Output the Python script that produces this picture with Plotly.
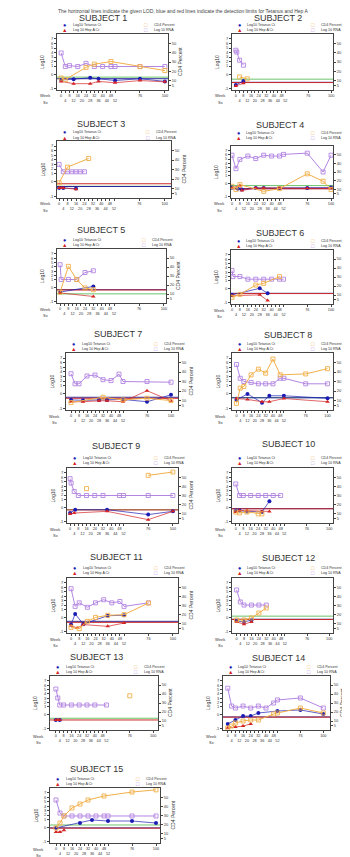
import plotly.graph_objects as go

W, H = 350, 857
FONT = "Liberation Sans, Arial, sans-serif"

# ---------------- data ----------------
subject_names = [f"SUBJECT {i}" for i in range(1, 16)]
legend_labels = ["Log10 Tetanus Ct", "Log 10 Hep A Ct", "CD4 Percent", "Log 10 RNA"]
header_text = "The horizontal lines indicate the given LOD, blue and red lines indicate the detection limits for Tetanus and Hep A"
week_ticks = [0, 4, 8, 12, 16, 20, 24, 28, 32, 36, 40, 44, 48, 52, 76, 100]
week_tick_text = ["0", "<br>4", "8", "<br>12", "16", "<br>20", "24", "<br>28", "32",
                  "<br>36", "40", "<br>44", "48", "<br>52", "76", "100"]
log_ticks = [-3.9, -0.8, 1, 2, 3, 4, 5, 6, 7]
log_tick_text = ["-1", "0", "1", "2", "3", "4", "5", "6", "7"]
cd4_ticks = [5, 10, 20, 30, 40, 50]

# Subject 1
s1_tet_wk = [0, 12, 28, 36, 52, 76, 100]
s1_tet = [-2.1, -1.9, -1.6, -1.8, -2.2, -1.8, -2.4]
s1_hep_wk = [0, 12, 28, 36, 52, 76, 100]
s1_hep = [-2.4, -2.9, -2.9, -2.4, -2.7, -2.2, -2.5]
s1_cd4_wk = [0, 4, 24, 32, 48, 76, 100]
s1_cd4 = [12.8, 11.1, 24.3, 27.7, 30.5, 25.0, 20.8]
s1_rna_wk = [0, 4, 8, 16, 24, 32, 40, 48, 52, 76, 100]
s1_rna = [3.9, 0.9, 1.1, 0.9, 1.6, 0.9, 0.9, 0.9, 0.9, 0.9, 0.9]
# Subject 2
s2_tet_wk = [0, 8]
s2_tet = [-3.2, -2.3]
s2_hep_wk = [0, 8]
s2_hep = [-3.4, -2.8]
s2_cd4_wk = [4, 12]
s2_cd4 = [14, 12]
s2_rna_wk = [0, 1, 4, 8]
s2_rna = [4.5, 4.1, 2.3, 1.2]
# Subject 3
s3_tet_wk = [0, 4, 16]
s3_tet = [-2.1, -2.1, -2.25]
s3_hep_wk = [0, 2, 4, 16]
s3_hep = [-2.1, -2.1, -2.1, -2.4]
s3_cd4_wk = [0, 8, 28]
s3_cd4 = [16, 32.5, 41.6]
s3_rna_wk = [0, 4, 8, 12, 16, 20, 24]
s3_rna = [3.0, 1.4, 1.4, 1.4, 1.4, 1.4, 1.4]
# Subject 4
s4_tet_wk = [0, 6, 10, 24, 32, 48, 76, 100]
s4_tet = [-1.8, -2.1, -2.3, -1.9, -1.9, -1.9, -1.9, -1.8]
s4_hep_wk = [0, 8, 10, 24, 32, 48, 76, 100]
s4_hep = [-1.9, -1.3, -2.5, -1.9, -1.9, -2.0, -2.0, -2.0]
s4_cd4_wk = [0, 4, 8, 32, 48, 76, 92, 100]
s4_cd4 = [13.5, 9.7, 15.5, 7.7, 10.8, 27.9, 19.4, 9.7]
s4_rna_wk = [0, 4, 8, 16, 24, 32, 40, 48, 52, 76, 92, 100]
s4_rna = [5.9, 2.7, 4.9, 5.7, 5.1, 5.9, 5.7, 5.7, 6.1, 6.4, 1.9, 5.9]
# Subject 5
s5_tet_wk = [0, 32]
s5_tet = [-1.8, -0.5]
s5_hep_wk = [0, 32]
s5_hep = [-2.0, -2.8]
s5_cd4_wk = [0, 8, 16, 24, 32]
s5_cd4 = [12, 40.7, 26, 16.7, 14.8]
s5_rna_wk = [0, 1, 8, 16, 24, 32]
s5_rna = [4.5, 1.1, 1.1, 1.1, 2.7, 3.1]
# Subject 6
s6_tet_wk = [0, 28, 36]
s6_tet = [-2.2, -0.7, -1.85]
s6_hep_wk = [0, 28, 36]
s6_hep = [-2.4, -2.2, -3.5]
s6_cd4_wk = [0, 8, 24, 32, 48]
s6_cd4 = [7.4, 10.7, 21, 23, 30.4]
s6_rna_wk = [0, 1, 8, 16, 24, 32, 40, 48, 52]
s6_rna = [3.4, 2.0, 2.0, 1.4, 1.4, 1.4, 1.4, 1.4, 1.4]
# Subject 7
s7_tet_wk = [0, 12, 28, 36, 52, 76, 100]
s7_tet = [-2.1, -2.2, -2.1, -2.1, -2.0, -2.5, -1.0]
s7_hep_wk = [0, 12, 28, 36, 52, 76, 100]
s7_hep = [-2.5, -2.5, -2.3, -2.3, -2.5, -0.1, -2.3]
s7_cd4_wk = [0, 32, 52, 76, 100]
s7_cd4 = [7.8, 13.4, 10.6, 12.4, 9.9]
s7_rna_wk = [0, 4, 8, 16, 24, 32, 40, 48, 52, 76, 100]
s7_rna = [3.6, 1.4, 1.4, 3.1, 3.3, 2.3, 2.1, 3.5, 1.9, 1.9, 1.75]
# Subject 8
s8_tet_wk = [0, 12, 28, 36, 52, 100]
s8_tet = [-2.1, -0.8, -2.7, -1.2, -1.2, -1.75]
s8_hep_wk = [0, 12, 28, 36, 52, 100]
s8_hep = [-1.8, -2.0, -2.5, -2.5, -1.8, -2.5]
s8_cd4_wk = [0, 4, 8, 16, 24, 32, 40, 48, 76, 100]
s8_cd4 = [7, 23, 24.7, 37, 43, 38.8, 53.6, 37, 38, 43.5]
s8_rna_wk = [0, 4, 8, 16, 24, 32, 40, 48, 52, 76, 100]
s8_rna = [5.6, 2.6, 1.9, 1.7, 1.4, 1.4, 1.4, 2.6, 2.6, 1.4, 1.4]
# Subject 9
s9_tet_wk = [0, 5, 36, 76, 100]
s9_tet = [-2.05, -1.3, -1.3, -2.4, -1.67]
s9_hep_wk = [0, 4, 36, 76, 100]
s9_hep = [-2.27, -2.05, -1.67, -3.55, -1.67]
s9_cd4_wk = [16, 46, 76, 100]
s9_cd4 = [37.5, None, 52, 55.6]
s9_rna_wk = [0, 1, 4, 8, 16, 24, 32, 48, 52, 76, 100]
s9_rna = [5.7, 4.7, 2.8, 1.9, 1.9, 1.9, 1.9, 1.9, 1.9, 1.9, 1.9]
# Subject 10
s10_tet_wk = [0, 4, 12, 28, 36]
s10_tet = [-1.5, -1.5, -1.7, -1.8, 0.6]
s10_hep_wk = [0, 4, 12, 28, 36]
s10_hep = [-1.8, -1.5, -1.5, -1.7, -1.7]
s10_cd4_wk = [0, 4, 12, 24, 28]
s10_cd4 = [12, 11, 12, 10, 10]
s10_rna_wk = [0, 4, 8, 16, 24, 32, 40, 48]
s10_rna = [4.5, 1.9, 1.9, 1.9, 1.9, 1.9, 1.9, 1.9]
# Subject 11
s11_tet_wk = [0, 4, 12, 36, 52]
s11_tet = [-2.4, 0.0, -2.3, -0.4, -0.3]
s11_hep_wk = [0, 6, 12, 36, 52]
s11_hep = [-2.6, -3.2, -2.4, -2.8, -2.05]
s11_cd4_wk = [0, 8, 16, 24, 36, 52, 76]
s11_cd4 = [6.2, 4.7, 12.7, 17, 19.3, 20, 32.7]
s11_rna_wk = [0, 4, 8, 16, 24, 32, 40, 48, 52, 76]
s11_rna = [5.7, 1.7, 2.5, 1.5, 2.5, 3.2, 2.5, 2.8, 1.7, 2.5]
# Subject 12
s12_tet_wk = [0, 8, 16]
s12_tet = [-1.6, -1.8, -1.4]
s12_hep_wk = [0, 8, 16]
s12_hep = [-1.8, -2.3, -1.8]
s12_cd4_wk = [0, 8, 16, 24, 32]
s12_cd4 = [14.2, 14.2, 16.4, 21.8, 27.3]
s12_rna_wk = [0, 4, 8, 16, 24, 32]
s12_rna = [5.4, 2.7, 2.0, 2.0, 2.0, 2.0]
# Subject 13
s13_tet_wk = [0, 4]
s13_tet = [-2.0, -2.0]
s13_hep_wk = [0, 2, 4]
s13_hep = [-2.0, -2.0, -2.0]
s13_cd4_wk = [76]
s13_cd4 = [38]
s13_rna_wk = [0, 2, 4, 8, 16, 24, 32, 40, 52]
s13_rna = [5.1, 3.05, 1.44, 1.44, 1.44, 1.44, 1.44, 1.44, 1.44]
# Subject 14
s14_tet_wk = [0, 8, 16, 24, 32, 52, 76, 100]
s14_tet = [-2.9, -2.0, -1.1, -1.1, -0.4, 0.06, 0.3, -0.63]
s14_hep_wk = [0, 8, 16, 24]
s14_hep = [-3.8, -3.6, -3.4, -2.9]
s14_cd4_wk = [0, 4, 8, 16, 24, 32, 48, 52, 76, 100]
s14_cd4 = [2.2, 4.4, 7.8, 10, 11.1, 11.1, 17.8, 18.9, 24.4, 18.9]
s14_rna_wk = [0, 4, 8, 16, 24, 32, 40, 48, 52, 76, 100]
s14_rna = [5.3, 1.2, 0.75, 1.2, 0.75, 1.2, 0.75, 1.9, 2.6, 3.05, 0.75]
# Subject 15
s15_tet_wk = [0, 24, 36, 52, 76, 100]
s15_tet = [-0.9, 0.2, 0.9, 0.66, 0.66, 0.2]
s15_hep_wk = [0, 4, 8]
s15_hep = [-1.8, -1.8, -1.4]
s15_cd4_wk = [0, 4, 8, 16, 24, 32, 48, 76, 100]
s15_cd4 = [16.4, 21.8, 29.5, 38.2, 42.5, 46.9, 51.3, 55.6, 58]
s15_rna_wk = [0, 4, 8, 16, 24, 32, 40, 48, 52, 76, 100]
s15_rna = [5.4, 2.46, 1.79, 1.79, 1.79, 1.79, 1.79, 1.79, 1.79, 1.79, 1.79]

# limit-of-detection reference lines (left-axis units), one per subject
lod_tet = [-1.8, -2.6, -1.8, -2.06, -1.24, -1.85, -1.53, -1.65, None, -1.06, -1.67, -1.2, None, -1.3, -0.9]
lod_hep = [None, -2.65, -1.2, -2.1, -1.3, -1.9, -1.75, None, -1.35, -1.1, -1.9, -1.25, -2.0, -1.35, -0.95]
lod_cd4 = [-1.45, -1.9, -1.75, -1.34, -2.2, None, None, -1.6, -1.3, None, None, -0.5, -1.6, None, -0.24]

subjects = [
    (s1_tet_wk, s1_tet, s1_hep_wk, s1_hep, s1_cd4_wk, s1_cd4, s1_rna_wk, s1_rna),
    (s2_tet_wk, s2_tet, s2_hep_wk, s2_hep, s2_cd4_wk, s2_cd4, s2_rna_wk, s2_rna),
    (s3_tet_wk, s3_tet, s3_hep_wk, s3_hep, s3_cd4_wk, s3_cd4, s3_rna_wk, s3_rna),
    (s4_tet_wk, s4_tet, s4_hep_wk, s4_hep, s4_cd4_wk, s4_cd4, s4_rna_wk, s4_rna),
    (s5_tet_wk, s5_tet, s5_hep_wk, s5_hep, s5_cd4_wk, s5_cd4, s5_rna_wk, s5_rna),
    (s6_tet_wk, s6_tet, s6_hep_wk, s6_hep, s6_cd4_wk, s6_cd4, s6_rna_wk, s6_rna),
    (s7_tet_wk, s7_tet, s7_hep_wk, s7_hep, s7_cd4_wk, s7_cd4, s7_rna_wk, s7_rna),
    (s8_tet_wk, s8_tet, s8_hep_wk, s8_hep, s8_cd4_wk, s8_cd4, s8_rna_wk, s8_rna),
    (s9_tet_wk, s9_tet, s9_hep_wk, s9_hep, s9_cd4_wk, s9_cd4, s9_rna_wk, s9_rna),
    (s10_tet_wk, s10_tet, s10_hep_wk, s10_hep, s10_cd4_wk, s10_cd4, s10_rna_wk, s10_rna),
    (s11_tet_wk, s11_tet, s11_hep_wk, s11_hep, s11_cd4_wk, s11_cd4, s11_rna_wk, s11_rna),
    (s12_tet_wk, s12_tet, s12_hep_wk, s12_hep, s12_cd4_wk, s12_cd4, s12_rna_wk, s12_rna),
    (s13_tet_wk, s13_tet, s13_hep_wk, s13_hep, s13_cd4_wk, s13_cd4, s13_rna_wk, s13_rna),
    (s14_tet_wk, s14_tet, s14_hep_wk, s14_hep, s14_cd4_wk, s14_cd4, s14_rna_wk, s14_rna),
    (s15_tet_wk, s15_tet, s15_hep_wk, s15_hep, s15_cd4_wk, s15_cd4, s15_rna_wk, s15_rna),
]

# ---------------- layout (pixels) ----------------
boxes = [
    (49, 160, 26, 82), (224, 325, 26, 82),
    (49, 163, 133, 190), (223, 325, 138, 190),
    (49, 158, 241, 295), (223, 325, 242, 296),
    (58, 170, 345, 402), (224, 325, 345, 402),
    (59, 170, 460, 515), (224, 325, 460, 515),
    (59, 170, 570, 625), (224, 325, 570, 625),
    (42, 150, 668, 722), (215, 322, 668, 722),
    (42, 152, 780, 835),
]
legend_offsets = [(9, 4), (9, 4), (8.5, 3.5), (13, 8), (9, 4), (9, 4),
                  (9, 4), (9, 4), (10, 5), (10, 5), (10, 5), (10, 5),
                  (9.5, 4.5), (9.5, 4.5), (9.5, 4.5)]
titles_pos = [(95, 10), (270, 10), (93, 116), (272, 117), (93, 222), (272, 225),
              (110, 326), (280, 327), (108, 438), (280, 436), (108, 549), (280, 550),
              (88, 649), (270, 650), (88, 761)]
xranges = [[-4, 103], [-4, 102], [-2, 106], [-1, 102], [-3, 102], [-1, 102],
           [-5, 107], [-5, 106], [-3, 105], [-4, 104], [-4, 105], [-5, 104],
           [-6, 105], [-5, 107], [-6, 104]]
LOG_RANGE = [-4.3, 8.1]
CD4_RANGE = [0, 60]

C_TET = "#1c1cb4"
C_HEP = "#d42424"
C_CD4 = "#f2b04a"
C_RNA = "#b386e2"
C_LOD_TET = "#2a2a9a"
C_LOD_HEP = "#cc2a2a"
C_LOD_CD4 = "#6cc46c"
AXC = "#444444"


def px(x):
    return x / W


def py(y):
    return 1 - y / H


fig = go.Figure()
layout = dict(width=W, height=H, margin=dict(l=0, r=0, t=0, b=0),
              paper_bgcolor="white", plot_bgcolor="white", showlegend=False,
              font=dict(family=FONT, color="#222"))
annotations = []
shapes = []

annotations.append(dict(x=0.5, y=py(3), xref="paper", yref="paper", text=header_text,
                        showarrow=False, font=dict(size=5, color="#444"),
                        xanchor="center", yanchor="middle"))

for i in range(15):
    n = i + 1
    l, r, t, b = boxes[i]
    w = r - l
    xid = "x" if n == 1 else f"x{n}"
    kl, kr = 2 * n - 1, 2 * n
    yl = "y" if kl == 1 else f"y{kl}"
    yr = f"y{kr}"
    xkey = "xaxis" if n == 1 else f"xaxis{n}"
    ylkey = "yaxis" if kl == 1 else f"yaxis{kl}"
    yrkey = f"yaxis{kr}"

    layout[xkey] = dict(domain=[px(l), px(r)], anchor=yl, range=xranges[i],
                        tickvals=week_ticks, ticktext=week_tick_text, tickangle=0,
                        tickfont=dict(size=3.8, color="#333"), ticks="outside", ticklen=2,
                        tickwidth=0.6, tickcolor=AXC, showline=True, mirror=True,
                        linecolor=AXC, linewidth=0.8, showgrid=False, zeroline=False)
    layout[ylkey] = dict(domain=[py(b), py(t)], anchor=xid, range=LOG_RANGE,
                         tickvals=log_ticks, ticktext=log_tick_text,
                         tickfont=dict(size=4, color="#333"), ticks="outside", ticklen=2,
                         tickwidth=0.6, tickcolor=AXC, showline=True, mirror=True,
                         linecolor=AXC, linewidth=0.8, showgrid=False, zeroline=False)
    layout[yrkey] = dict(overlaying=yl, side="right", anchor=xid, range=CD4_RANGE,
                         tickvals=cd4_ticks, tickfont=dict(size=4, color="#333"),
                         ticks="outside", ticklen=2, tickwidth=0.6, tickcolor=AXC,
                         showline=False, showgrid=False, zeroline=False)

    tet_wk, tet, hep_wk, hep, cd4_wk, cd4, rna_wk, rna = subjects[i]

    for val, col in ((lod_cd4[i], C_LOD_CD4), (lod_tet[i], C_LOD_TET), (lod_hep[i], C_LOD_HEP)):
        if val is not None:
            shapes.append(dict(type="line", xref=f"{xid} domain", yref=yl, x0=0, x1=1,
                               y0=val, y1=val, line=dict(color=col, width=1.0), layer="below"))

    fig.add_trace(go.Scatter(x=rna_wk, y=rna, xaxis=xid, yaxis=yl, mode="lines+markers",
                             line=dict(color=C_RNA, width=1.0),
                             marker=dict(symbol="square-open", size=4, color=C_RNA,
                                         line=dict(width=0.9))))
    fig.add_trace(go.Scatter(x=tet_wk, y=tet, xaxis=xid, yaxis=yl, mode="lines+markers",
                             line=dict(color=C_TET, width=0.7),
                             marker=dict(symbol="circle", size=4, color=C_TET)))
    fig.add_trace(go.Scatter(x=hep_wk, y=hep, xaxis=xid, yaxis=yl, mode="lines+markers",
                             line=dict(color=C_HEP, width=0.7),
                             marker=dict(symbol="triangle-up", size=4, color=C_HEP)))
    fig.add_trace(go.Scatter(x=cd4_wk, y=cd4, xaxis=xid, yaxis=yr, mode="lines+markers",
                             line=dict(color=C_CD4, width=1.0),
                             marker=dict(symbol="square-open", size=4, color=C_CD4,
                                         line=dict(width=0.9))))

    # title
    cx, ty = titles_pos[i]
    annotations.append(dict(x=px(cx), y=py(ty), xref="paper", yref="paper",
                            text=subject_names[i], showarrow=False,
                            font=dict(size=9, color="#333"), xanchor="center", yanchor="middle"))
    # legend
    o1, o2 = legend_offsets[i]
    rows = (t - o1, t - o2)
    items = [(l + 0.07 * w, rows[0], "●", C_TET, legend_labels[0]),
             (l + 0.07 * w, rows[1], "▲", C_HEP, legend_labels[1]),
             (l + 0.80 * w, rows[0], "□", C_CD4, legend_labels[2]),
             (l + 0.80 * w, rows[1], "□", C_RNA, legend_labels[3])]
    for sx, sy, sym, col, lab in items:
        annotations.append(dict(x=px(sx), y=py(sy), xref="paper", yref="paper", text=sym,
                                showarrow=False, font=dict(size=5.5, color=col),
                                xanchor="center", yanchor="middle"))
        annotations.append(dict(x=px(sx + 6), y=py(sy), xref="paper", yref="paper", text=lab,
                                showarrow=False, font=dict(size=3.6, color="#333"),
                                xanchor="left", yanchor="middle"))
    # axis titles
    annotations.append(dict(x=px(l - 15), y=py((t + b) / 2), xref="paper", yref="paper",
                            text="Log10", textangle=-90, showarrow=False,
                            font=dict(size=5, color="#333"), xanchor="center", yanchor="middle"))
    annotations.append(dict(x=px(r + 12), y=py((t + b) / 2), xref="paper", yref="paper",
                            text="CD4 Percent", textangle=-90, showarrow=False,
                            font=dict(size=5, color="#333"), xanchor="center", yanchor="middle"))
    # row labels under the x axis
    annotations.append(dict(x=px(l - 12), y=py(b + 6), xref="paper", yref="paper",
                            text="Week", showarrow=False, font=dict(size=4, color="#333"),
                            xanchor="center", yanchor="middle"))
    annotations.append(dict(x=px(l - 12), y=py(b + 12), xref="paper", yref="paper",
                            text="Sx", showarrow=False, font=dict(size=4, color="#333"),
                            xanchor="center", yanchor="middle"))

layout["annotations"] = annotations
layout["shapes"] = shapes
fig.update_layout(**layout)
fig.write_html("out.html")
